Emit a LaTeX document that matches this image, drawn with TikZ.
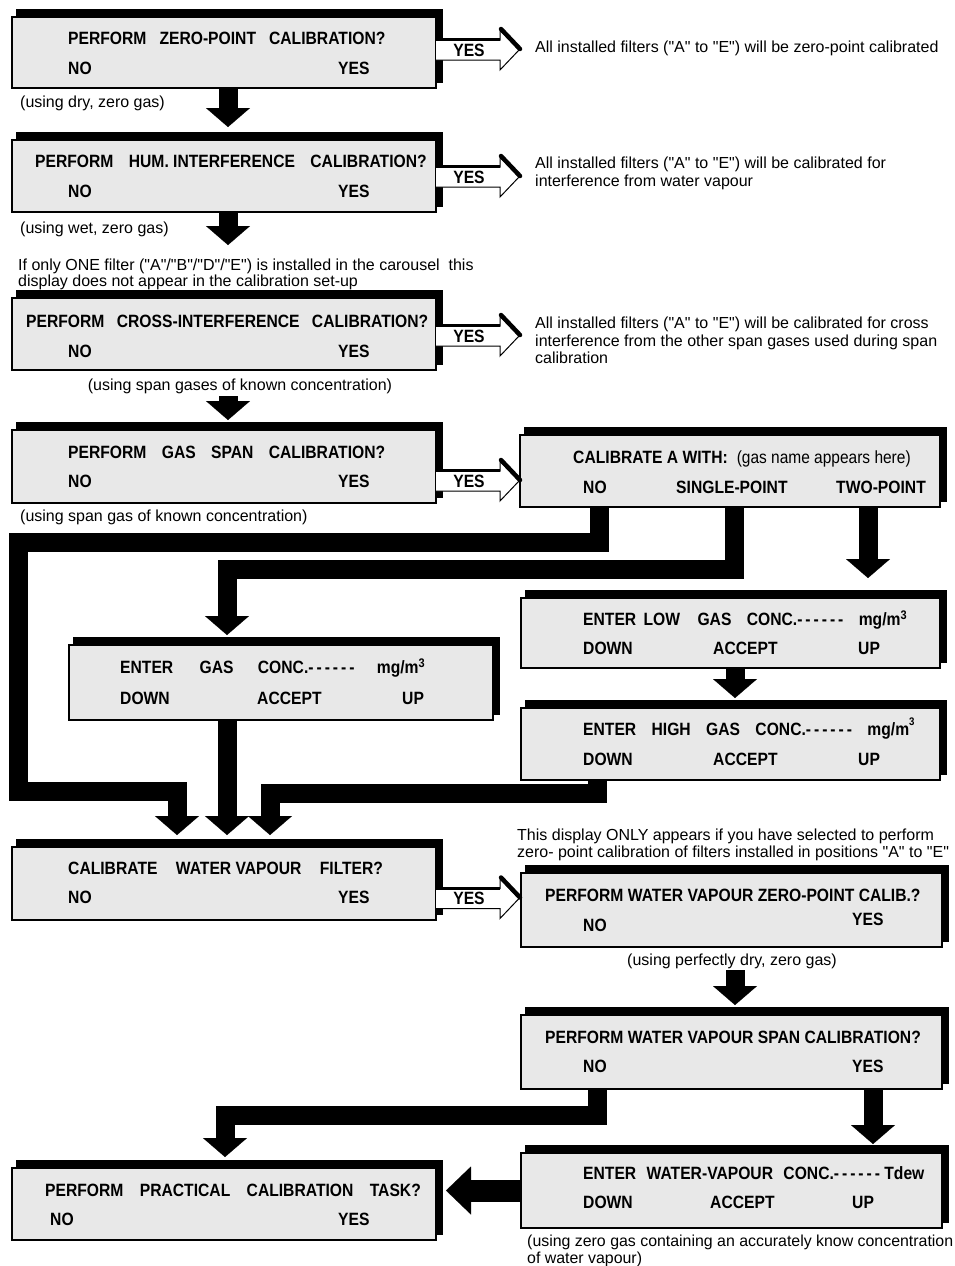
\documentclass[tikz,border=0pt]{standalone}
\usepackage{fontspec}
\setmainfont{Liberation Sans}[Ligatures=TeXOff]
\newfontfamily\bxfont{Liberation Sans}[FakeStretch=0.88,Ligatures=TeXOff]
\usetikzlibrary{arrows.meta,calc}
\newcommand\mybox[5]{%
  \fill[black] (#2+4,#3-8) rectangle (#4+7,#5-5);
  \node[box,minimum width={#4pt-#2pt},minimum height={#5pt-#3pt}] (#1) at ({(#2+#4)/2},{(#3+#5)/2}) {};}
\newcommand\gp[1][13]{\hspace{#1pt}}
\newcommand\dsh{-\,-\,-\,-\,-\,-}
\begin{document}
\begin{tikzpicture}[x=1pt,y=-1pt,
  box/.style={draw=black,line width=1.3pt,fill=black!9,inner sep=0pt,outer sep=0pt},
  bt/.style={font=\bxfont\bfseries\fontsize{17.8}{19}\selectfont,anchor=west,inner sep=0pt,text height=12.7pt,text depth=0pt},
  nt/.style={font=\fontsize{16}{19}\selectfont,anchor=west,inner sep=0pt,text height=11.5pt,text depth=0pt},
  flow/.style={line width=19pt,line join=miter,-{Triangle[width=44pt,length=19pt,line width=0.1pt]}},
  flowL/.style={line width=22pt,line join=miter,-{Triangle[width=48pt,length=25pt,line width=0.1pt]}},
  yesarrow/.pic={
    \filldraw[fill=white,draw=black,line width=1pt,line join=miter] (0,-10) -- (64,-10) -- (64,-20) -- (83,0) -- (64,20) -- (64,10) -- (0,10);
    \draw[line width=3pt] (0,-10.5) -- (64,-10.5);
    \draw[line width=4.5pt,line cap=round] (65,-21) -- (84,-1);
    \node[bt,anchor=center] (-t) at (33,0) {YES};
  }]
\useasboundingbox (0,0) rectangle (955,1266);

% ---------- boxes ----------
\mybox{b1}{12}{17}{436}{88}
\mybox{b2}{12}{140}{436}{212}
\mybox{b3}{12}{298}{436}{370}
\mybox{b4}{12}{430}{436}{503}
\mybox{calA}{520}{435}{940}{507}
\mybox{low}{521}{598}{940}{668}
\mybox{high}{521}{708}{940}{780}
\mybox{gas}{69}{645}{493}{720}
\mybox{wvf}{12}{847}{436}{920}
\mybox{wvz}{521}{873}{942}{947}
\mybox{wvs}{521}{1015}{942}{1089}
\mybox{wve}{521}{1153}{942}{1228}
\mybox{prac}{12}{1168}{436}{1240}

% ---------- box texts ----------
\node[bt] (b1q) at (68,38) {PERFORM\gp ZERO-POINT\gp CALIBRATION?};
\node[bt] (b1n) at (68,68) {NO};
\node[bt] (b1y) at (338,68) {YES};
\node[bt] (b2q) at (35,161) {PERFORM\gp[11] HUM. INTERFERENCE\gp[11] CALIBRATION?};
\node[bt] (b2n) at (68,191) {NO};
\node[bt] (b2y) at (338,191) {YES};
\node[bt] (b3q) at (26,321) {PERFORM\gp[8] CROSS-INTERFERENCE\gp[8] CALIBRATION?};
\node[bt] (b3n) at (68,351) {NO};
\node[bt] (b3y) at (338,351) {YES};
\node[bt] (b4q) at (68,452) {PERFORM\gp[11] GAS\gp[11] SPAN\gp[11] CALIBRATION?};
\node[bt] (b4n) at (68,481) {NO};
\node[bt] (b4y) at (338,481) {YES};
\node[bt] (cq) at (573,457) {CALIBRATE A WITH:\hspace{9pt}{\mdseries\fontsize{17.6}{19}\selectfont (gas name appears here)}};
\node[bt] (cn) at (583,487) {NO};
\node[bt] (cs) at (676,487) {SINGLE-POINT};
\node[bt] (ct) at (836,487) {TWO-POINT};
\node[bt] (lq) at (583,619) {ENTER\gp[3] LOW\gp[13] GAS\gp[11] CONC.\dsh\gp[11] mg/m\textsuperscript{3}};
\node[bt] (ld) at (583,648) {DOWN};
\node[bt] (la) at (713,648) {ACCEPT};
\node[bt] (lu) at (858,648) {UP};
\node[bt] (hq) at (583,729) {ENTER\gp[11] HIGH\gp[11] GAS\gp[11] CONC.\dsh\gp[11] mg/m\raisebox{10pt}{\fontsize{11}{12}\selectfont 3}};
\node[bt] (hd) at (583,759) {DOWN};
\node[bt] (ha) at (713,759) {ACCEPT};
\node[bt] (hu) at (858,759) {UP};
\node[bt] (gq) at (120,667) {ENTER\gp[22] GAS\gp[20] CONC.\dsh\gp[18] mg/m\textsuperscript{3}};
\node[bt] (gd) at (120,698) {DOWN};
\node[bt] (ga) at (257,698) {ACCEPT};
\node[bt] (gu) at (402,698) {UP};
\node[bt] (fq) at (68,868) {CALIBRATE\gp[14] WATER VAPOUR\gp[14] FILTER?};
\node[bt] (fn) at (68,897) {NO};
\node[bt] (fy) at (338,897) {YES};
\node[bt] (zq) at (545,895) {PERFORM WATER VAPOUR ZERO-POINT CALIB.?};
\node[bt] (zn) at (583,925) {NO};
\node[bt] (zy) at (852,919) {YES};
\node[bt] (sq) at (545,1037) {PERFORM WATER VAPOUR SPAN CALIBRATION?};
\node[bt] (sn) at (583,1066) {NO};
\node[bt] (sy) at (852,1066) {YES};
\node[bt] (eq) at (583,1173) {ENTER\gp[6] WATER-VAPOUR\gp[6] CONC.\dsh\ Tdew};
\node[bt] (ed) at (583,1202) {DOWN};
\node[bt] (ea) at (710,1202) {ACCEPT};
\node[bt] (eu) at (852,1202) {UP};
\node[bt] (pq) at (45,1190) {PERFORM\gp[12] PRACTICAL\gp[12] CALIBRATION\gp[12] TASK?};
\node[bt] (pn) at (50,1219) {NO};
\node[bt] (py) at (338,1219) {YES};

% ---------- notes ----------
\node[nt] (n1) at (535,47) {All installed filters ("A" to "E") will be zero-point calibrated};
\node[nt] (n2a) at (535,163) {All installed filters ("A" to "E") will be calibrated for};
\node[nt] (n2b) at (535,181) {interference from water vapour};
\node[nt] (n3a) at (535,323) {All installed filters ("A" to "E") will be calibrated for cross};
\node[nt] (n3b) at (535,341) {interference from the other span gases used during span};
\node[nt] (n3c) at (535,358) {calibration};
\node[nt] (c1) at (20,102) {(using dry, zero gas)};
\node[nt] (c2) at (20,228) {(using wet, zero gas)};
\node[nt] (oa) at (18,265) {If only ONE filter ("A"/"B"/"D"/"E") is installed in the carousel\ \ this};
\node[nt] (ob) at (18,281) {display does not appear in the calibration set-up};
\node[nt,anchor=center] (c3) at (240,385) {(using span gases of known concentration)};
\node[nt] (c4) at (20,516) {(using span gas of known concentration)};
\node[nt] (n4a) at (517,835) {This display ONLY appears if you have selected to perform};
\node[nt] (n4b) at (517,852) {zero- point calibration of filters installed in positions "A" to "E"};
\node[nt,anchor=center] (c5) at (732,960) {(using perfectly dry, zero gas)};
\node[nt,font=\fontsize{15.9}{18}\selectfont] (c6a) at (527,1241) {(using zero gas containing an accurately know concentration};
\node[nt,font=\fontsize{15.9}{18}\selectfont] (c6b) at (527,1258) {of water vapour)};

% ---------- YES arrows ----------
\pic (y1) at ([yshift=2.5pt]b1.east) {yesarrow};
\pic (y2) at ([yshift=-1pt]b2.east) {yesarrow};
\pic (y3) at ([yshift=-2pt]b3.east) {yesarrow};
\pic (y4) at ([yshift=-14.5pt]b4.east) {yesarrow};
\pic (y5) at ([yshift=-15pt]wvf.east) {yesarrow};

% ---------- flow connectors ----------
\draw[flow] ($(b1.south west)+(216,0)$) -- ($(b2.north west)+(216,-13)$);
\draw[flow] ($(b2.south west)+(216,0)$) -- ($(b3.north west)+(216,-53)$);
\draw[flow] ($(b3.south west)+(216,26)$) -- ($(b4.north west)+(216,-10)$);
\draw[flow] ($(calA.south west)+(79,0)$) |- (18,542) |- (177,791) -- ($(wvf.north west)+(165,-12)$);
\draw[flow] ($(calA.south west)+(214,0)$) |- (227,569) -- ($(gas.north west)+(158,-10)$);
\draw[flow] ($(calA.south west)+(348,0)$) -- ($(low.north west)+(347,-20)$);
\draw[flow] ($(low.south west)+(214,0)$) -- ($(high.north west)+(214,-10)$);
\draw[flow] ($(gas.south west)+(158,0)$) -- ($(wvf.north west)+(215,-12)$);
\draw[flow] ($(high.south west)+(76,0)$) |- (270,793) -- ($(wvf.north west)+(258,-12)$);
\draw[flow] ($(wvz.south west)+(214,23)$) -- ($(wvs.north west)+(214,-10)$);
\draw[flow] ($(wvs.south west)+(76,0)$) |- (225,1115) -- ($(prac.north west)+(213,-11)$);
\draw[flow] ($(wvs.south west)+(352,0)$) -- ($(wve.north west)+(352,-9)$);
\draw[flowL] (wve.west) -- ($(prac.east |- wve.west)+(10,0)$);
\end{tikzpicture}
\end{document}
